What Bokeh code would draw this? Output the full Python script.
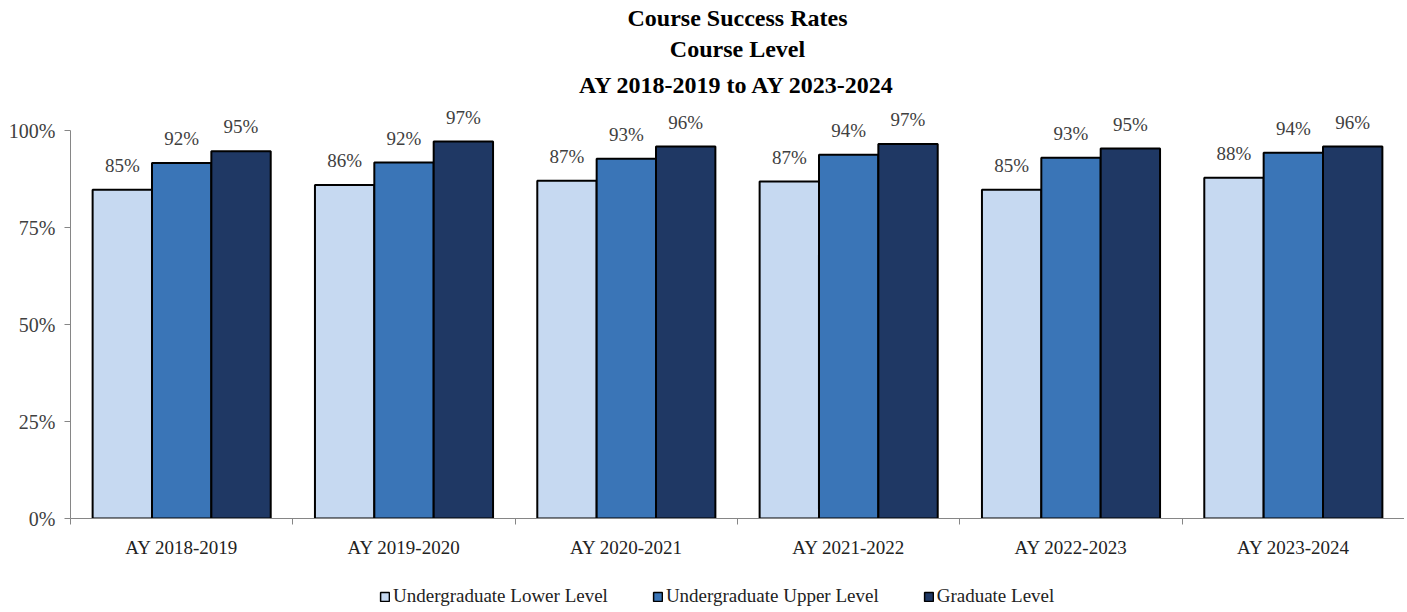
from bokeh.plotting import figure
from bokeh.layouts import column
from bokeh.models import (ColumnDataSource, Range1d, FixedTicker, Title, Legend, LegendItem)
from bokeh.core.properties import value
from bokeh.embed import file_html
from bokeh.resources import INLINE

years = ["AY 2018-2019", "AY 2019-2020", "AY 2020-2021", "AY 2021-2022", "AY 2022-2023", "AY 2023-2024"]
series_names = ["Undergraduate Lower Level", "Undergraduate Upper Level", "Graduate Level"]
lower = [84.8, 86.0, 87.1, 86.9, 84.8, 87.9]
upper = [91.7, 91.8, 92.8, 93.8, 93.0, 94.3]
grad = [94.7, 97.2, 95.9, 96.6, 95.4, 95.9]
y_ticks = [0, 25, 50, 75, 100]

colors = ["#C6D9F1", "#3A75B7", "#1F3864"]
FONT = "Liberation Serif"
GRAY = "#868686"
TXT = "#404040"

p = figure(frame_width=1334, frame_height=413, output_backend="svg", toolbar_location=None,
           x_range=Range1d(0, 6), y_range=Range1d(0, 106.5),
           min_border_left=70, min_border_right=0, min_border_bottom=67, min_border_top=0)
p.outline_line_color = None
p.xgrid.visible = False
p.ygrid.visible = False

bw = 0.267
offsets = [-bw, 0.0, bw]
for vals, off, col in zip([lower, upper, grad], offsets, colors):
    xs = [i + 0.5 + off for i in range(len(years))]
    src = ColumnDataSource(dict(x=xs, top=vals, lab=["%d%%" % round(v) for v in vals]))
    p.vbar(x="x", top="top", width=bw, bottom=0, source=src, fill_color=col,
           line_color="black", line_width=2)
    p.text(x="x", y="top", text="lab", source=src, text_align="center", text_baseline="bottom",
           y_offset=-14, text_font=value(FONT), text_font_size="19px", text_color=TXT)

# y axis
ya = p.yaxis[0]
ya.ticker = FixedTicker(ticks=y_ticks)
ya.major_label_overrides = {t: "%d%%" % t for t in y_ticks}
ya.bounds = (0, 100)
ya.axis_line_color = GRAY
ya.major_tick_line_color = GRAY
ya.major_tick_out = 6
ya.major_tick_in = 0
ya.minor_tick_line_color = None
ya.major_label_text_font = FONT
ya.major_label_text_font_size = "20px"
ya.major_label_text_color = TXT
ya.major_label_standoff = 9

# x axis
xa = p.xaxis[0]
centers = [i + 0.5 for i in range(len(years))]
xa.ticker = FixedTicker(ticks=centers, minor_ticks=list(range(len(years) + 1)))
xa.major_label_overrides = {c: y for c, y in zip(centers, years)}
xa.axis_line_color = GRAY
xa.major_tick_line_color = None
xa.minor_tick_line_color = GRAY
xa.minor_tick_out = 6
xa.minor_tick_in = 0
xa.major_label_text_font = FONT
xa.major_label_text_font_size = "19px"
xa.major_label_text_color = "#222222"
xa.major_label_standoff = 12

title_lines = ["Course Success Rates", "Course Level", "AY 2018-2019 to AY 2023-2024"]
for txt, so in zip(reversed(title_lines), [15, 2, 4]):
    p.add_layout(Title(text=txt, align="center", text_font=FONT, text_font_size="24px",
                       text_font_style="bold", text_color="black", standoff=so), "above")

# legend strip below the chart
lg = figure(frame_width=1391, frame_height=22, output_backend="svg", toolbar_location=None,
            x_range=Range1d(0, 1), y_range=Range1d(0, 1),
            x_axis_location=None, y_axis_location=None,
            min_border_left=0, min_border_right=0, min_border_top=0, min_border_bottom=0)
lg.outline_line_color = None
lg.xgrid.visible = False
lg.ygrid.visible = False
items = []
for name, col in zip(series_names, colors):
    r = lg.vbar(x=[5], top=[1], width=0.1, fill_color=col, line_color="black", line_width=1.5)
    items.append(LegendItem(label=name, renderers=[r]))
legend = Legend(items=items, orientation="horizontal", location=(379, 0))
legend.label_text_font = FONT
legend.label_text_font_size = "19px"
legend.label_text_color = "#222222"
legend.glyph_width = 11
legend.glyph_height = 11
legend.label_standoff = 3
legend.spacing = 44
legend.padding = 0
legend.margin = 0
legend.border_line_color = None
legend.background_fill_alpha = 0
lg.add_layout(legend)

open("out.html", "w").write(file_html(column(p, lg, spacing=0), INLINE))
